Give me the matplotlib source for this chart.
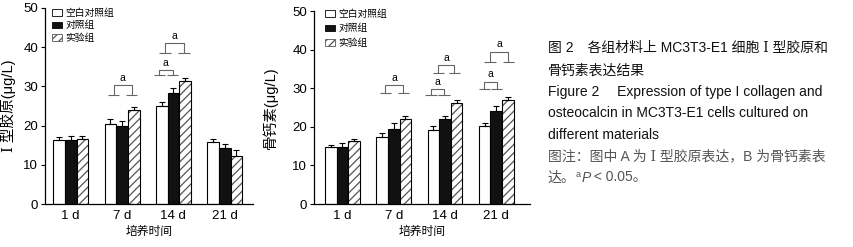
import matplotlib
matplotlib.use('Agg')
import matplotlib.pyplot as plt
from matplotlib.patches import Patch
import numpy as np

# Liberation for latin, DejaVu Serif for the roman numeral Ⅰ, Noto CJK for Chinese
plt.rcParams['font.family'] = ['Liberation Sans', 'DejaVu Serif', 'Noto Sans CJK SC']
plt.rcParams['hatch.linewidth'] = 0.9

days = ['1 d', '7 d', '14 d', '21 d']
groups = ['空白对照组', '对照组', '实验组']

# A: type I collagen (μg/L)
col_blank = [16.2, 20.5, 25.1, 15.7]
col_blank_err = [0.9, 1.1, 1.0, 1.0]
col_ctrl = [16.2, 20.0, 28.4, 14.2]
col_ctrl_err = [1.1, 1.1, 1.2, 1.0]
col_exp = [16.5, 23.9, 31.3, 12.2]
col_exp_err = [0.8, 0.8, 0.8, 1.5]

# B: osteocalcin (μg/L)
ocn_blank = [14.8, 17.3, 19.2, 20.3]
ocn_blank_err = [0.5, 1.2, 1.0, 0.8]
ocn_ctrl = [14.8, 19.4, 22.1, 24.0]
ocn_ctrl_err = [0.9, 1.7, 0.7, 1.3]
ocn_exp = [16.2, 21.9, 26.2, 27.0]
ocn_exp_err = [0.6, 0.9, 0.8, 0.8]

# significance brackets: (day index, left offset, right offset, foot y, top y)
sig_col = [(1, -0.166, 0.185, 27.8, 30.3),
           (2, -0.277, -0.016, 32.9, 34.2),
           (2, -0.166, 0.205, 38.6, 41.0)]
sig_ocn = [(1, -0.166, 0.19, 28.8, 30.8),
           (2, -0.27, -0.02, 28.2, 29.7),
           (2, -0.13, 0.18, 33.9, 36.0),
           (3, -0.23, 0.01, 29.7, 31.7),
           (3, -0.12, 0.24, 36.7, 39.5)]

W = 0.227


def draw_panel(ax, series, errors, brackets, ylabel, xlim, labelpad, leg_anchor, leg_spacing):
    x = np.arange(len(days))
    for i, (vals, err) in enumerate(zip(series, errors)):
        pos = x + (i - 1) * W
        if i == 0:
            ax.bar(pos, vals, W, color='white', edgecolor='black', linewidth=0.8)
        elif i == 1:
            ax.bar(pos, vals, W, color='#111111', edgecolor='black', linewidth=0.8)
        else:
            ax.bar(pos, vals, W, color='white', edgecolor='#555555', hatch='////', linewidth=0)
            ax.bar(pos, vals, W, fill=False, edgecolor='black', linewidth=0.8)
        ax.errorbar(pos, vals, yerr=[np.zeros(len(vals)), err], fmt='none',
                    ecolor='black', elinewidth=0.8, capsize=2.5, capthick=0.8)

    # significance brackets
    fw = 0.11
    for g, xl, xr, yf, yt in brackets:
        a, b = g + xl, g + xr
        kw = dict(color='#666666', lw=0.8, solid_capstyle='butt')
        ax.plot([a - fw, a + fw], [yf, yf], **kw)
        ax.plot([b - fw, b + fw], [yf, yf], **kw)
        ax.plot([a, a, b, b], [yf, yt, yt, yf], **kw)
        ax.text((a + b) / 2, yt + 0.6, 'a', ha='center', va='bottom', fontsize=7.5)

    ax.set_xlim(*xlim)
    ax.set_ylim(0, 50)
    ax.set_yticks(range(0, 51, 10))
    ax.set_xticks(x)
    ax.set_xticklabels(days)
    ax.tick_params(axis='y', direction='out', length=3, width=0.8, labelsize=9.5, pad=2)
    ax.tick_params(axis='x', length=0, labelsize=9.5, pad=4)
    for s in ['top', 'right']:
        ax.spines[s].set_visible(False)
    for s in ['left', 'bottom']:
        ax.spines[s].set_linewidth(0.9)
    ax.set_ylabel(ylabel, fontsize=10.5, labelpad=labelpad)
    ax.set_xlabel('培养时间', fontsize=8.5, labelpad=3)

    handles = [Patch(facecolor='white', edgecolor='black', linewidth=0.6),
               Patch(facecolor='#111111', edgecolor='black', linewidth=0.6),
               Patch(facecolor='white', edgecolor='#555555', hatch='////', linewidth=0.6)]
    ax.legend(handles, groups, loc='upper left', bbox_to_anchor=leg_anchor, frameon=False,
              fontsize=7, handlelength=1.0, handleheight=0.65, handletextpad=0.4,
              labelspacing=leg_spacing, borderaxespad=0, borderpad=0)


fig = plt.figure(figsize=(8.54, 2.47), dpi=100)
ax1 = fig.add_axes([45 / 854, 43 / 247, 208 / 854, 196 / 247])
ax2 = fig.add_axes([314 / 854, 43 / 247, 216 / 854, 193 / 247])

draw_panel(ax1, [col_blank, col_ctrl, col_exp], [col_blank_err, col_ctrl_err, col_exp_err],
           sig_col, 'Ⅰ 型胶原(μg/L)', (-0.5, 3.55), 5, (0.034, 1.0), 0.25)
draw_panel(ax2, [ocn_blank, ocn_ctrl, ocn_exp], [ocn_blank_err, ocn_ctrl_err, ocn_exp_err],
           sig_ocn, '骨钙素(μg/L)', (-0.556, 3.66), 10, (0.05, 1.01), 0.45)

# caption on the right
cx = 548 / 854
cap_size = 10
lines = [('图 2\u3000各组材料上 MC3T3-E1 细胞 Ⅰ 型胶原和', 52, '#111111'),
         ('骨钙素表达结果', 75, '#111111'),
         ('Figure 2\u3000 Expression of type I collagen and', 95.5, '#111111'),
         ('osteocalcin in MC3T3-E1 cells cultured on', 116.5, '#111111'),
         ('different materials', 139, '#111111'),
         ('图注：图中 A 为 Ⅰ 型胶原表达，B 为骨钙素表', 160, '#555555')]
for txt, yb, c in lines:
    fig.text(cx, 1 - yb / 247, txt, fontsize=cap_size, color=c, va='baseline', ha='left')

# last line: 达。 aP < 0.05。 (superscript a, italic P)
yb = 1 - 181.5 / 247
renderer = fig.canvas.get_renderer()
t = fig.text(cx, yb, '达。', fontsize=cap_size, color='#555555', va='baseline')
xn = t.get_window_extent(renderer).x1 / fig.bbox.width
t = fig.text(xn, yb + 4.5 / 247, 'a', fontsize=6.5, color='#555555', va='baseline')
xn = t.get_window_extent(renderer).x1 / fig.bbox.width + 0.5 / 854
t = fig.text(xn, yb, 'P', fontsize=cap_size, color='#555555', va='baseline', style='italic')
xn = t.get_window_extent(renderer).x1 / fig.bbox.width
fig.text(xn, yb, ' < 0.05。', fontsize=cap_size, color='#555555', va='baseline')

plt.savefig('out.png', dpi=100)
